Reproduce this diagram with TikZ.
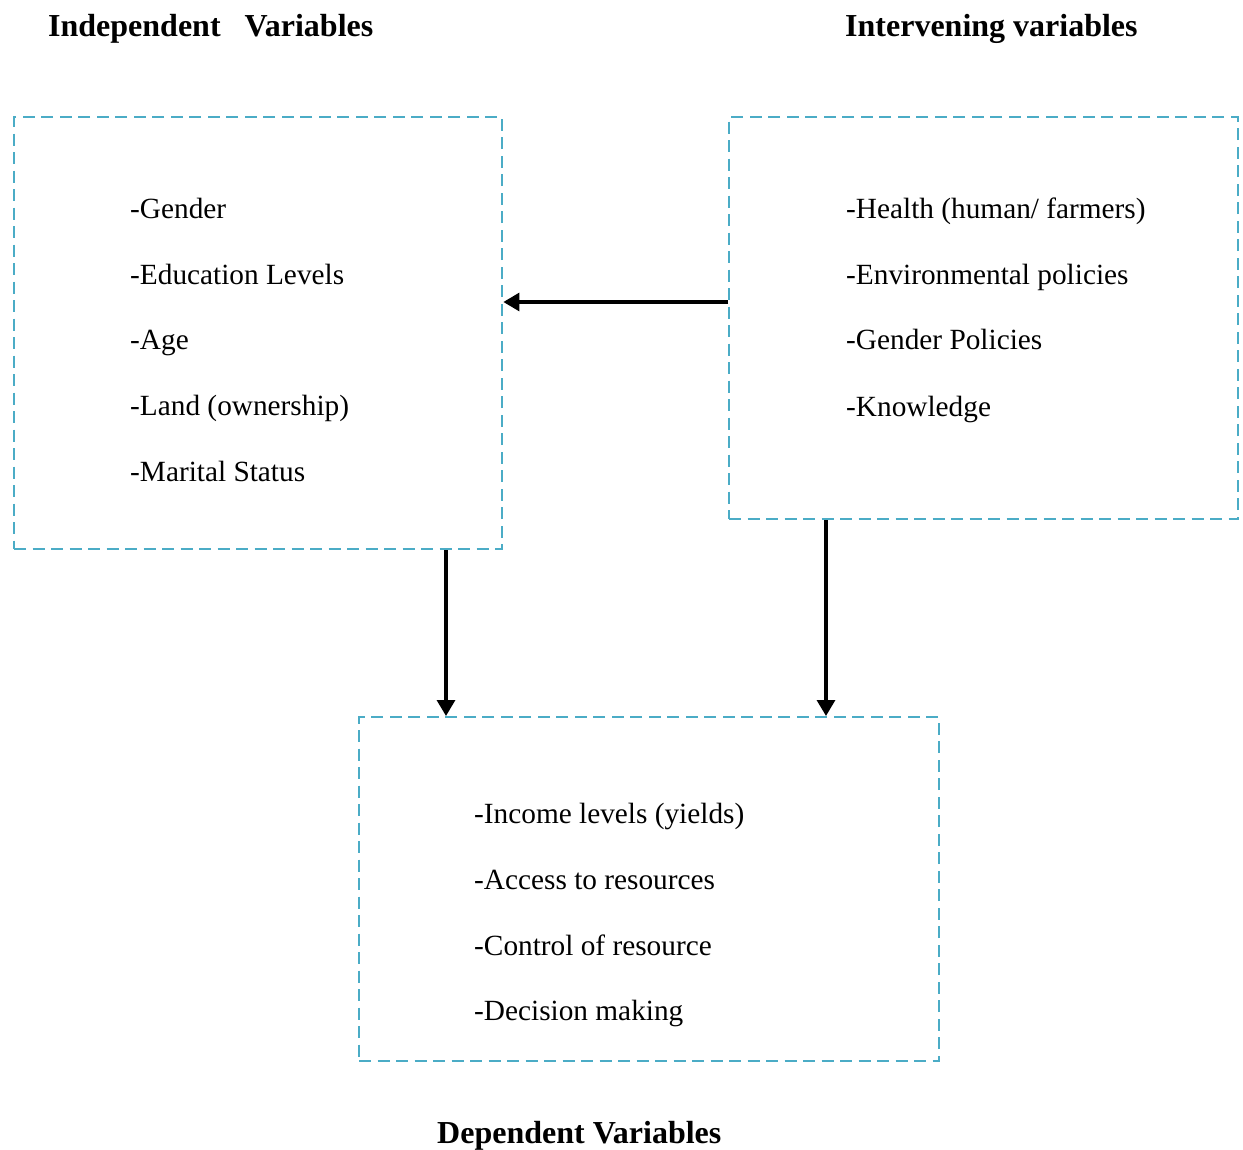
\documentclass[tikz,border=0pt]{standalone}
\usepackage{fontspec}
\setmainfont{Liberation Serif}
\usetikzlibrary{arrows.meta}
\definecolor{boxblue}{HTML}{4BACC6}
\begin{document}
\begin{tikzpicture}[x=1pt,y=-1pt,
  vbox/.style={draw=boxblue,line width=2.4pt,dash pattern=on 12pt off 6.5pt,inner sep=0pt,anchor=north west},
  item/.style={anchor=base west,inner sep=0pt,font=\fontsize{29.3}{33}\selectfont},
  title/.style={anchor=base west,inner sep=0pt,font=\fontsize{32}{36}\selectfont\bfseries},
  arr/.style={line width=3.2pt,-{Triangle[length=16pt,width=18pt]}}]
\useasboundingbox (0,0) rectangle (1243,1150);
% boxes
\node[vbox,minimum width=488pt,minimum height=432pt] (lbox) at (13,116) {};
\node[vbox,minimum width=509pt,minimum height=402pt] (rbox) at (728,116) {};
\node[vbox,minimum width=580pt,minimum height=344pt] (bbox) at (358,716) {};
% titles
\node[title] (t1) at (48,37) {Independent\ \ \ Variables};
\node[title] (t2) at (845,37) {Intervening variables};
\node[title] (t3) at (437,1143) {Dependent Variables};
% left items
\node[item] (l1) at (130,219) {-Gender};
\node[item] (l2) at (130,285) {-Education Levels};
\node[item] (l3) at (130,350) {-Age};
\node[item] (l4) at (130,416) {-Land (ownership)};
\node[item] (l5) at (130,481) {-Marital Status};
% right items
\node[item] (r1) at (846,219) {-Health (human/ farmers)};
\node[item] (r2) at (846,285) {-Environmental policies};
\node[item] (r3) at (846,350) {-Gender Policies};
\node[item] (r4) at (846,417) {-Knowledge};
% bottom items
\node[item] (b1) at (474,823) {-Income levels (yields)};
\node[item] (b2) at (474,889) {-Access to resources};
\node[item] (b3) at (474,955) {-Control of resource};
\node[item] (b4) at (474,1020) {-Decision making};
% arrows
\draw[arr] (rbox.west |- 0,302) -- (lbox.east |- 0,302);
\draw[arr] (lbox.south -| 446,0) -- (bbox.north -| 446,0);
\draw[arr] (rbox.south -| 826,0) -- (bbox.north -| 826,0);
\end{tikzpicture}
\end{document}
